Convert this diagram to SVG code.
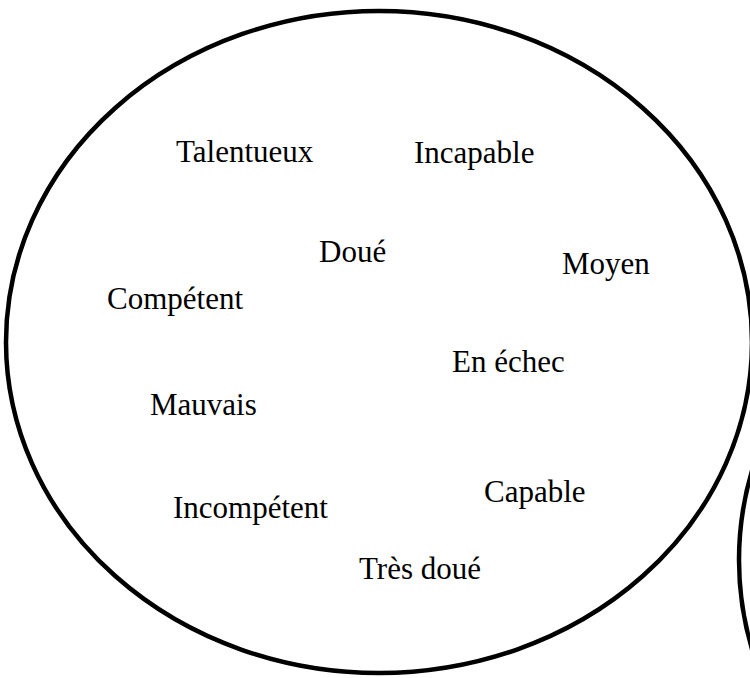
<svg xmlns="http://www.w3.org/2000/svg" width="750" height="678" viewBox="0 0 750 678">
<style>
.shape{fill:none;stroke:#000;stroke-width:4.5}
.lbl{font-family:"Liberation Serif","Times New Roman",serif;font-size:31px;fill:#000}
</style>
<rect width="750" height="678" fill="#fff"/>
<g id="bubble-main"><ellipse class="shape" cx="379" cy="342" rx="373" ry="331"/></g>
<g id="bubble-second"><ellipse class="shape" cx="1111" cy="560" rx="372" ry="340"/></g>
<g id="connectors"></g>
<g id="n-talentueux"><text class="lbl" x="176" y="162">Talentueux</text></g>
<g id="n-incapable"><text class="lbl" x="414" y="163">Incapable</text></g>
<g id="n-doue"><text class="lbl" x="319" y="262">Doué</text></g>
<g id="n-moyen"><text class="lbl" x="562" y="274">Moyen</text></g>
<g id="n-competent"><text class="lbl" x="107" y="309">Compétent</text></g>
<g id="n-enechec"><text class="lbl" x="452" y="372">En échec</text></g>
<g id="n-mauvais"><text class="lbl" x="150" y="415">Mauvais</text></g>
<g id="n-capable"><text class="lbl" x="484" y="502">Capable</text></g>
<g id="n-incompetent"><text class="lbl" x="173" y="518">Incompétent</text></g>
<g id="n-tresdoue"><text class="lbl" x="359" y="579">Très doué</text></g>
</svg>
